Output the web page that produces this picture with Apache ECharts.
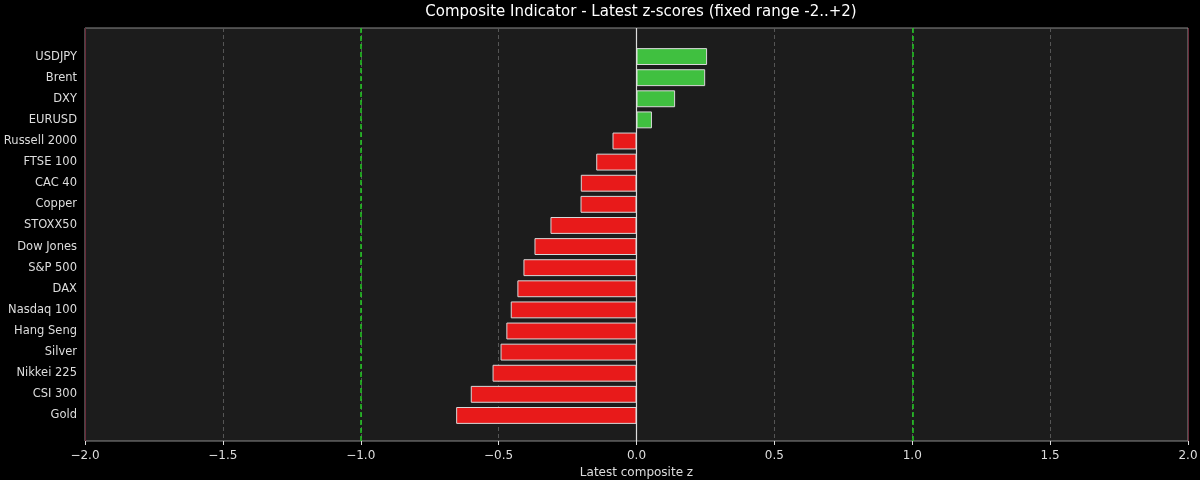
<!DOCTYPE html>
<html>
<head>
<meta charset="utf-8">
<script src="https://cdn.jsdelivr.net/npm/echarts@6/dist/echarts.min.js"></script>
<style>html,body{margin:0;padding:0;background:#000;}#c{width:1200px;height:480px;}</style>
</head>
<body>
<div id="c"></div>
<script>
const categories = ["USDJPY","Brent","DXY","EURUSD","Russell 2000","FTSE 100","CAC 40","Copper","STOXX50","Dow Jones","S&P 500","DAX","Nasdaq 100","Hang Seng","Silver","Nikkei 225","CSI 300","Gold"];
const zScores = [0.256,0.249,0.140,0.056,-0.087,-0.146,-0.202,-0.203,-0.312,-0.370,-0.410,-0.432,-0.456,-0.472,-0.493,-0.522,-0.601,-0.654];
const xTicks = [-2.0,-1.5,-1.0,-0.5,0.0,0.5,1.0,1.5,2.0];
const thresholds = [-1, 1];

const FONT = 'DejaVu Sans';
const chart = echarts.init(document.getElementById('c'));
const fmt = v => (v < 0 ? '\u2212' : '') + Math.abs(v).toFixed(1);
chart.setOption({
  backgroundColor: '#000000',
  animation: false,
  title: {
    text: 'Composite Indicator - Latest z-scores (fixed range -2..+2)',
    left: 636, top: 0, textAlign: 'center',
    textStyle: {color: '#ffffff', fontFamily: FONT, fontSize: 15, fontWeight: 'normal'}
  },
  grid: [
    {left: 85, right: 12, top: 28, height: 413, containLabel: false, outerBoundsMode: 'none',
     show: true, backgroundColor: '#1c1c1c', borderColor: '#8a8a8a', borderWidth: 1},
    {left: 85, right: 12, top: 46, height: 380, containLabel: false, outerBoundsMode: 'none'}
  ],
  xAxis: [
    {gridIndex: 0, type: 'value', min: xTicks[0], max: xTicks[xTicks.length-1], interval: 0.5,
     name: 'Latest composite z', nameLocation: 'middle', nameGap: 26,
     nameTextStyle: {color: '#dddddd', fontFamily: FONT, fontSize: 12},
     axisLine: {show: false},
     axisTick: {show: true, length: 4, lineStyle: {color: '#dddddd'}},
     axisLabel: {color: '#dddddd', fontFamily: FONT, fontSize: 12, margin: 9, formatter: fmt},
     splitLine: {show: true, lineStyle: {color: '#555555', type: [4, 3], width: 1}}},
    {gridIndex: 1, type: 'value', min: -2, max: 2, show: false}
  ],
  yAxis: [
    {gridIndex: 0, type: 'value', min: 0, max: 1, show: false},
    {gridIndex: 1, type: 'category', data: categories, inverse: true,
     axisLine: {show: false}, axisTick: {show: false},
     axisLabel: {color: '#dddddd', fontFamily: FONT, fontSize: 11.5, margin: 8},
     splitLine: {show: false}}
  ],
  series: [
    {type: 'line', xAxisIndex: 0, yAxisIndex: 0, data: [], silent: true,
     markLine: {symbol: 'none', silent: true, label: {show: false},
       data: [
         ...thresholds.map(t => ({xAxis: t, lineStyle: {color: '#22cc22', type: [5, 3], width: 1.5}})),
         {xAxis: 0, lineStyle: {color: '#dddddd', type: 'solid', width: 1.2}},
         {xAxis: -2, lineStyle: {color: '#6a2a3a', type: 'solid', width: 1}},
         {xAxis: 2, lineStyle: {color: '#6a2a3a', type: 'solid', width: 1}}
       ]}},
    {type: 'bar', xAxisIndex: 1, yAxisIndex: 1, barCategoryGap: '20%', z: 3,
     data: zScores.map(v => ({value: v, itemStyle: {color: v >= 0 ? '#40c040' : '#e81a1a'}})),
     itemStyle: {borderColor: '#d8d8d8', borderWidth: 1}}
  ]
});
</script>
</body>
</html>
